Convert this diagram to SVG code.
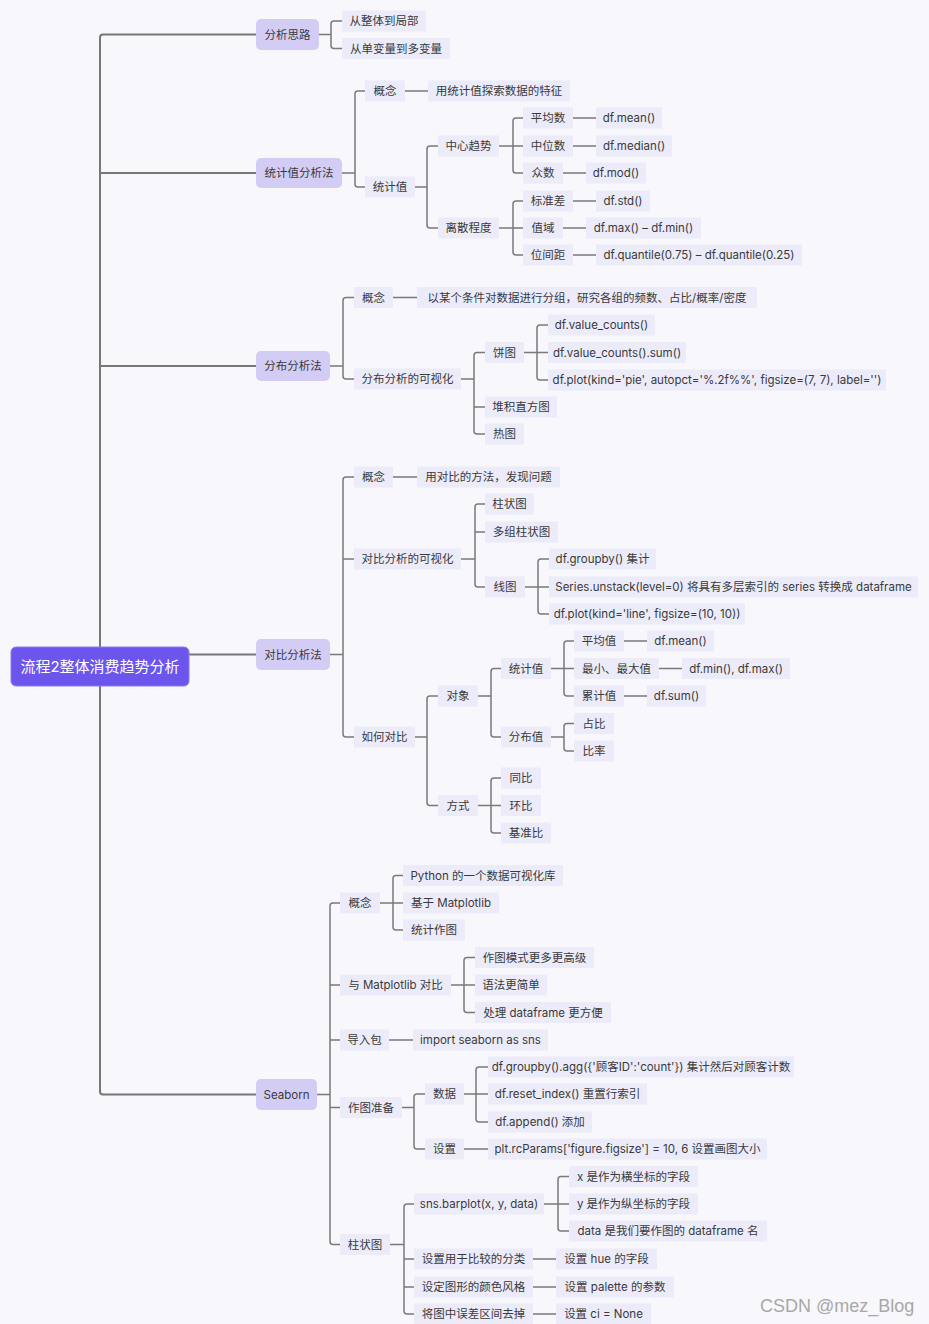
<svg xmlns="http://www.w3.org/2000/svg" width="929" height="1324" viewBox="0 0 929 1324">
<style>
.bg{fill:#f7f7fc}
.c{fill:none;stroke:#7a7a7a;stroke-width:1.5}
.trunk{fill:none;stroke:#777;stroke-width:2}
.r2{fill:#ebebfa}
.r1{fill:#d3cdf6}
.t{font-family:Inter,"Noto Sans CJK SC",sans-serif;font-size:11.5px;fill:#3a3a3a;text-anchor:middle;dominant-baseline:central}
.root{fill:#6b55ec;stroke:#8c7cf2;stroke-width:1}
.rt{font-family:Inter,"Noto Sans CJK SC",sans-serif;font-size:15px;fill:#fff;text-anchor:middle;dominant-baseline:central}
.wm{font-family:"Liberation Sans",Arial,sans-serif;font-size:18px;fill:#a8a8a8}
</style>
<rect class="bg" x="0" y="0" width="929" height="1324"/>
<g id="connectors">
<path class="trunk" d="M256 34.5 H103 Q100 34.5 100 37.5 V1091.5 Q100 1094.5 103 1094.5 H256 M100 173 H256 M100 366 H256 M100 654.5 H256"/>
<path class="c" d="M319 34.5 H331 M342 21 H334 Q331 21 331 24 V45.5 Q331 48.5 334 48.5 H342"/>
<path class="c" d="M342 173 H355 M365 91 H358 Q355 91 355 94 V184 Q355 187 358 187 H365 M405 91 H428 M415 187 H427 M438 146 H430 Q427 146 427 149 V225 Q427 228 430 228 H438 M499 146 H523 M523 118 H516 Q513 118 513 121 V170 Q513 173 516 173 H523 M573 118 H596 M573 146 H596 M563 173 H586 M499 228 H523 M523 201 H516 Q513 201 513 204 V252 Q513 255 516 255 H523 M573 201 H596 M563 228 H586 M573 255 H596"/>
<path class="c" d="M330 366 H343 M354 297.5 H346 Q343 297.5 343 300.5 V376 Q343 379 346 379 H354 M393 297.5 H417 M461 379 H474 M485 352.5 H477 Q474 352.5 474 355.5 V431 Q474 434 477 434 H485 M474 407 H485 M524 352.5 H548 M548 325 H540 Q537 325 537 328 V377 Q537 380 540 380 H548"/>
<path class="c" d="M330 654.5 H343 M354 477 H346 Q343 477 343 480 V734 Q343 737 346 737 H354 M343 559 H354 M393 477 H417 M461 559 H475 M485 504 H478 Q475 504 475 507 V584 Q475 587 478 587 H485 M475 532 H485 M525 587 H549 M549 559 H541 Q538 559 538 562 V611 Q538 614 541 614 H549 M415 737 H427 M438 696 H430 Q427 696 427 699 V802.5 Q427 805.5 430 805.5 H438 M478 696 H491 M501 668.5 H494 Q491 668.5 491 671.5 V734 Q491 737 494 737 H501 M551 668.5 H574 M574 641 H567 Q564 641 564 644 V693 Q564 696 567 696 H574 M624 641 H647 M659 668.5 H682 M624 696 H647 M551 737 H564 M574 723.5 H567 Q564 723.5 564 726.5 V748 Q564 751 567 751 H574 M478 805.5 H501 M501 778 H494 Q491 778 491 781 V830 Q491 833 494 833 H501"/>
<path class="c" d="M317 1094.5 H330 M340 903 H333 Q330 903 330 906 V1241.5 Q330 1244.5 333 1244.5 H340 M330 985 H340 M330 1040 H340 M330 1107.5 H340 M380 903 H403 M403 875.5 H396 Q393 875.5 393 878.5 V927 Q393 930 396 930 H403 M451 985 H475 M475 957.5 H467 Q464 957.5 464 960.5 V1009.5 Q464 1012.5 467 1012.5 H475 M389 1040 H413 M402 1107.5 H414 M425 1094 H417 Q414 1094 414 1097 V1146 Q414 1149 417 1149 H425 M464 1094 H488 M488 1067 H479 Q476 1067 476 1070 V1119 Q476 1122 479 1122 H488 M464 1149 H488 M390 1244.5 H404 M414 1204 H407 Q404 1204 404 1207 V1311 Q404 1314 407 1314 H414 M404 1259 H414 M404 1287 H414 M544 1204 H569 M569 1176.5 H561 Q558 1176.5 558 1179.5 V1228 Q558 1231 561 1231 H569 M533 1259 H556 M533 1287 H556 M533 1314 H556"/>
</g>
<g id="root"><rect class="root" x="11" y="647" width="178" height="39" rx="5"/><text class="rt" x="100" y="666.5">流程2整体消费趋势分析</text></g>
<g id="n-fxsl"><rect class="r1" x="256" y="19" width="63" height="31" rx="5"/><text class="t" x="287.5" y="34.5">分析思路</text></g>
<g id="n-tjzfxf"><rect class="r1" x="256" y="158" width="86" height="30" rx="5"/><text class="t" x="299" y="173">统计值分析法</text></g>
<g id="n-fbfxf"><rect class="r1" x="256" y="351" width="74" height="30" rx="5"/><text class="t" x="293" y="366">分布分析法</text></g>
<g id="n-dbfxf"><rect class="r1" x="256" y="639" width="74" height="31" rx="5"/><text class="t" x="293" y="654.5">对比分析法</text></g>
<g id="n-seaborn"><rect class="r1" x="256" y="1079" width="61" height="31" rx="5"/><text class="t" x="286.5" y="1094.5">Seaborn</text></g>
<g id="a1"><rect class="r2" x="342" y="10.5" width="84" height="21"/><text class="t" x="384" y="21">从整体到局部</text></g>
<g id="a2"><rect class="r2" x="342" y="38" width="108" height="21"/><text class="t" x="396" y="48.5">从单变量到多变量</text></g>
<g id="b1"><rect class="r2" x="365" y="80.5" width="40" height="21"/><text class="t" x="385" y="91">概念</text></g>
<g id="b1a"><rect class="r2" x="428" y="80.5" width="142" height="21"/><text class="t" x="499" y="91">用统计值探索数据的特征</text></g>
<g id="b2"><rect class="r2" x="365" y="176.5" width="50" height="21"/><text class="t" x="390" y="187">统计值</text></g>
<g id="b2a"><rect class="r2" x="438" y="135.5" width="61" height="21"/><text class="t" x="468.5" y="146">中心趋势</text></g>
<g id="b2a1"><rect class="r2" x="523" y="107.5" width="50" height="21"/><text class="t" x="548" y="118">平均数</text></g>
<g id="b2a1v"><rect class="r2" x="596" y="107.5" width="66" height="21"/><text class="t" x="629" y="118">df.mean()</text></g>
<g id="b2a2"><rect class="r2" x="523" y="135.5" width="50" height="21"/><text class="t" x="548" y="146">中位数</text></g>
<g id="b2a2v"><rect class="r2" x="596" y="135.5" width="76" height="21"/><text class="t" x="634" y="146">df.median()</text></g>
<g id="b2a3"><rect class="r2" x="523" y="162.5" width="40" height="21"/><text class="t" x="543" y="173">众数</text></g>
<g id="b2a3v"><rect class="r2" x="586" y="162.5" width="60" height="21"/><text class="t" x="616" y="173">df.mod()</text></g>
<g id="b2b"><rect class="r2" x="438" y="217.5" width="61" height="21"/><text class="t" x="468.5" y="228">离散程度</text></g>
<g id="b2b1"><rect class="r2" x="523" y="190.5" width="50" height="21"/><text class="t" x="548" y="201">标准差</text></g>
<g id="b2b1v"><rect class="r2" x="596" y="190.5" width="54" height="21"/><text class="t" x="623" y="201">df.std()</text></g>
<g id="b2b2"><rect class="r2" x="523" y="217.5" width="40" height="21"/><text class="t" x="543" y="228">值域</text></g>
<g id="b2b2v"><rect class="r2" x="586" y="217.5" width="115" height="21"/><text class="t" x="643.5" y="228">df.max() – df.min()</text></g>
<g id="b2b3"><rect class="r2" x="523" y="244.5" width="50" height="21"/><text class="t" x="548" y="255">位间距</text></g>
<g id="b2b3v"><rect class="r2" x="596" y="244.5" width="206" height="21"/><text class="t" x="699" y="255">df.quantile(0.75) – df.quantile(0.25)</text></g>
<g id="c1"><rect class="r2" x="354" y="287" width="39" height="21"/><text class="t" x="373.5" y="297.5">概念</text></g>
<g id="c1a"><rect class="r2" x="417" y="287" width="340" height="21"/><text class="t" x="587" y="297.5">以某个条件对数据进行分组，研究各组的频数、占比/概率/密度</text></g>
<g id="c2"><rect class="r2" x="354" y="368.5" width="107" height="21"/><text class="t" x="407.5" y="379">分布分析的可视化</text></g>
<g id="c2a"><rect class="r2" x="485" y="342" width="39" height="21"/><text class="t" x="504.5" y="352.5">饼图</text></g>
<g id="c2a1"><rect class="r2" x="548" y="314.5" width="107" height="21"/><text class="t" x="601.5" y="325">df.value_counts()</text></g>
<g id="c2a2"><rect class="r2" x="548" y="342" width="138" height="21"/><text class="t" x="617" y="352.5">df.value_counts().sum()</text></g>
<g id="c2a3"><rect class="r2" x="548" y="369.5" width="338" height="21"/><text class="t" x="717" y="380">df.plot(kind='pie', autopct='%.2f%%', figsize=(7, 7), label='')</text></g>
<g id="c2b"><rect class="r2" x="485" y="396.5" width="72" height="21"/><text class="t" x="521" y="407">堆积直方图</text></g>
<g id="c2c"><rect class="r2" x="485" y="423.5" width="39" height="21"/><text class="t" x="504.5" y="434">热图</text></g>
<g id="d1"><rect class="r2" x="354" y="466.5" width="39" height="21"/><text class="t" x="373.5" y="477">概念</text></g>
<g id="d1a"><rect class="r2" x="417" y="466.5" width="143" height="21"/><text class="t" x="488.5" y="477">用对比的方法，发现问题</text></g>
<g id="d2"><rect class="r2" x="354" y="548.5" width="107" height="21"/><text class="t" x="407.5" y="559">对比分析的可视化</text></g>
<g id="d2a"><rect class="r2" x="485" y="493.5" width="49" height="21"/><text class="t" x="509.5" y="504">柱状图</text></g>
<g id="d2b"><rect class="r2" x="485" y="521.5" width="73" height="21"/><text class="t" x="521.5" y="532">多组柱状图</text></g>
<g id="d2c"><rect class="r2" x="485" y="576.5" width="40" height="21"/><text class="t" x="505" y="587">线图</text></g>
<g id="d2c1"><rect class="r2" x="549" y="548.5" width="107" height="21"/><text class="t" x="602.5" y="559">df.groupby() 集计</text></g>
<g id="d2c2"><rect class="r2" x="549" y="576.5" width="369" height="21"/><text class="t" x="733.5" y="587">Series.unstack(level=0) 将具有多层索引的 series 转换成 dataframe</text></g>
<g id="d2c3"><rect class="r2" x="549" y="603.5" width="196" height="21"/><text class="t" x="647" y="614">df.plot(kind='line', figsize=(10, 10))</text></g>
<g id="d3"><rect class="r2" x="354" y="726.5" width="61" height="21"/><text class="t" x="384.5" y="737">如何对比</text></g>
<g id="d3a"><rect class="r2" x="438" y="685.5" width="40" height="21"/><text class="t" x="458" y="696">对象</text></g>
<g id="d3a1"><rect class="r2" x="501" y="658" width="50" height="21"/><text class="t" x="526" y="668.5">统计值</text></g>
<g id="d3a1a"><rect class="r2" x="574" y="630.5" width="50" height="21"/><text class="t" x="599" y="641">平均值</text></g>
<g id="d3a1av"><rect class="r2" x="647" y="630.5" width="67" height="21"/><text class="t" x="680.5" y="641">df.mean()</text></g>
<g id="d3a1b"><rect class="r2" x="574" y="658" width="85" height="21"/><text class="t" x="616.5" y="668.5">最小、最大值</text></g>
<g id="d3a1bv"><rect class="r2" x="682" y="658" width="108" height="21"/><text class="t" x="736" y="668.5">df.min(), df.max()</text></g>
<g id="d3a1c"><rect class="r2" x="574" y="685.5" width="50" height="21"/><text class="t" x="599" y="696">累计值</text></g>
<g id="d3a1cv"><rect class="r2" x="647" y="685.5" width="59" height="21"/><text class="t" x="676.5" y="696">df.sum()</text></g>
<g id="d3a2"><rect class="r2" x="501" y="726.5" width="50" height="21"/><text class="t" x="526" y="737">分布值</text></g>
<g id="d3a2a"><rect class="r2" x="574" y="713" width="40" height="21"/><text class="t" x="594" y="723.5">占比</text></g>
<g id="d3a2b"><rect class="r2" x="574" y="740.5" width="40" height="21"/><text class="t" x="594" y="751">比率</text></g>
<g id="d3b"><rect class="r2" x="438" y="795" width="40" height="21"/><text class="t" x="458" y="805.5">方式</text></g>
<g id="d3b1"><rect class="r2" x="501" y="767.5" width="40" height="21"/><text class="t" x="521" y="778">同比</text></g>
<g id="d3b2"><rect class="r2" x="501" y="795" width="40" height="21"/><text class="t" x="521" y="805.5">环比</text></g>
<g id="d3b3"><rect class="r2" x="501" y="822.5" width="50" height="21"/><text class="t" x="526" y="833">基准比</text></g>
<g id="e1"><rect class="r2" x="340" y="892.5" width="40" height="21"/><text class="t" x="360" y="903">概念</text></g>
<g id="e1a"><rect class="r2" x="403" y="865" width="160" height="21"/><text class="t" x="483" y="875.5">Python 的一个数据可视化库</text></g>
<g id="e1b"><rect class="r2" x="403" y="892.5" width="96" height="21"/><text class="t" x="451" y="903">基于 Matplotlib</text></g>
<g id="e1c"><rect class="r2" x="403" y="919.5" width="62" height="21"/><text class="t" x="434" y="930">统计作图</text></g>
<g id="e2"><rect class="r2" x="340" y="974.5" width="111" height="21"/><text class="t" x="395.5" y="985">与 Matplotlib 对比</text></g>
<g id="e2a"><rect class="r2" x="475" y="947" width="119" height="21"/><text class="t" x="534.5" y="957.5">作图模式更多更高级</text></g>
<g id="e2b"><rect class="r2" x="475" y="974.5" width="72" height="21"/><text class="t" x="511" y="985">语法更简单</text></g>
<g id="e2c"><rect class="r2" x="475" y="1002" width="136" height="21"/><text class="t" x="543" y="1012.5">处理 dataframe 更方便</text></g>
<g id="e3"><rect class="r2" x="340" y="1029.5" width="49" height="21"/><text class="t" x="364.5" y="1040">导入包</text></g>
<g id="e3a"><rect class="r2" x="413" y="1029.5" width="135" height="21"/><text class="t" x="480.5" y="1040">import seaborn as sns</text></g>
<g id="e4"><rect class="r2" x="340" y="1097" width="62" height="21"/><text class="t" x="371" y="1107.5">作图准备</text></g>
<g id="e4a"><rect class="r2" x="425" y="1083.5" width="39" height="21"/><text class="t" x="444.5" y="1094">数据</text></g>
<g id="e4a1"><rect class="r2" x="488" y="1056.5" width="306" height="21"/><text class="t" x="641" y="1067">df.groupby().agg({'顾客ID':'count'}) 集计然后对顾客计数</text></g>
<g id="e4a2"><rect class="r2" x="488" y="1083.5" width="159" height="21"/><text class="t" x="567.5" y="1094">df.reset_index() 重置行索引</text></g>
<g id="e4a3"><rect class="r2" x="488" y="1111.5" width="104" height="21"/><text class="t" x="540" y="1122">df.append() 添加</text></g>
<g id="e4b"><rect class="r2" x="425" y="1138.5" width="39" height="21"/><text class="t" x="444.5" y="1149">设置</text></g>
<g id="e4b1"><rect class="r2" x="488" y="1138.5" width="279" height="21"/><text class="t" x="627.5" y="1149">plt.rcParams['figure.figsize'] = 10, 6 设置画图大小</text></g>
<g id="e5"><rect class="r2" x="340" y="1234" width="50" height="21"/><text class="t" x="365" y="1244.5">柱状图</text></g>
<g id="e5a"><rect class="r2" x="414" y="1193.5" width="130" height="21"/><text class="t" x="479" y="1204">sns.barplot(x, y, data)</text></g>
<g id="e5a1"><rect class="r2" x="569" y="1166" width="129" height="21"/><text class="t" x="633.5" y="1176.5">x 是作为横坐标的字段</text></g>
<g id="e5a2"><rect class="r2" x="569" y="1193.5" width="129" height="21"/><text class="t" x="633.5" y="1204">y 是作为纵坐标的字段</text></g>
<g id="e5a3"><rect class="r2" x="569" y="1220.5" width="198" height="21"/><text class="t" x="668" y="1231">data 是我们要作图的 dataframe 名</text></g>
<g id="e5b"><rect class="r2" x="414" y="1248.5" width="119" height="21"/><text class="t" x="473.5" y="1259">设置用于比较的分类</text></g>
<g id="e5b1"><rect class="r2" x="556" y="1248.5" width="101" height="21"/><text class="t" x="606.5" y="1259">设置 hue 的字段</text></g>
<g id="e5c"><rect class="r2" x="414" y="1276.5" width="119" height="21"/><text class="t" x="473.5" y="1287">设定图形的颜色风格</text></g>
<g id="e5c1"><rect class="r2" x="556" y="1276.5" width="118" height="21"/><text class="t" x="615" y="1287">设置 palette 的参数</text></g>
<g id="e5d"><rect class="r2" x="414" y="1303.5" width="119" height="21"/><text class="t" x="473.5" y="1314">将图中误差区间去掉</text></g>
<g id="e5d1"><rect class="r2" x="556" y="1303.5" width="95" height="21"/><text class="t" x="603.5" y="1314">设置 ci = None</text></g>
<text class="wm" x="760" y="1312">CSDN @mez_Blog</text>
</svg>
